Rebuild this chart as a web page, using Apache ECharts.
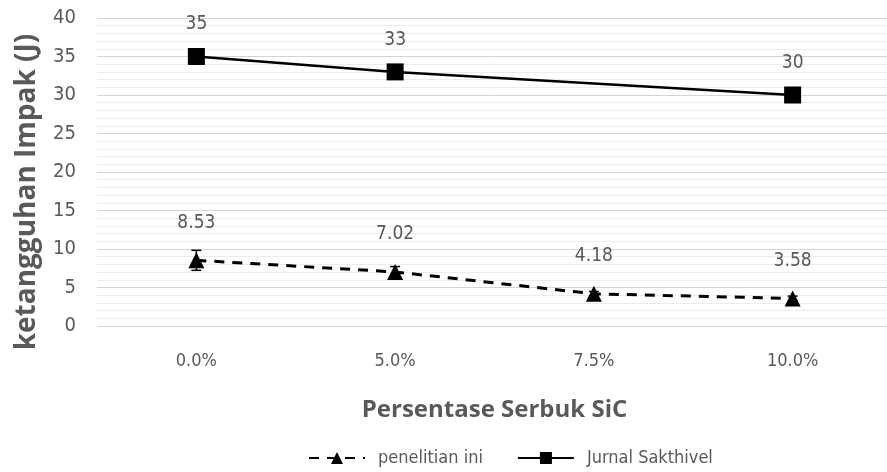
<!DOCTYPE html>
<html>
<head>
<meta charset="utf-8">
<style>
  html, body { margin: 0; padding: 0; background: #fff; }
  #chart { width: 887px; height: 472px; }
</style>
<script src="https://cdn.jsdelivr.net/npm/echarts@6/dist/echarts.min.js"></script>
</head>
<body>
<div id="chart"></div>
<script>
// Impact toughness versus SiC powder percentage
const categories = ['0.0%', '5.0%', '7.5%', '10.0%'];
const penelitianIni = [8.53, 7.02, 4.18, 3.58];
const penelitianErr = [1.3, 0.7, 0.3, 0.3];
const jurnalSakthivel = [35, 33, null, 30];
const yTicks = [0, 5, 10, 15, 20, 25, 30, 35, 40];

const FONT = "'DejaVu Sans Condensed', 'Liberation Sans Narrow', 'Open Sans', sans-serif";
const TITLE_FONT = "'Open Sans', sans-serif";
const GREY = '#595959';

const errorData = penelitianIni.map((v, i) => [i, v - penelitianErr[i], v + penelitianErr[i]]);

const chart = echarts.init(document.getElementById('chart'));
chart.setOption({
  animation: false,
  grid: { left: 97, top: 18, width: 795, bottom: 146, outerBoundsMode: 'none', containLabel: false },
  xAxis: {
    type: 'category',
    data: categories,
    boundaryGap: true,
    axisLine: { show: false },
    axisTick: { show: false },
    axisLabel: { color: GREY, fontFamily: FONT, fontSize: 18, margin: 26 },
    name: 'Persentase Serbuk SiC',
    nameLocation: 'middle',
    nameGap: 72,
    nameTextStyle: { color: GREY, fontFamily: TITLE_FONT, fontWeight: 'bold', fontSize: 24 }
  },
  yAxis: {
    type: 'value',
    min: yTicks[0],
    max: yTicks[yTicks.length - 1],
    interval: 5,
    axisLine: { show: false },
    axisTick: { show: false },
    axisLabel: { color: GREY, fontFamily: FONT, fontSize: 20, margin: 21 },
    splitLine: { lineStyle: { color: '#d4d4d4', width: 1 } },
    minorTick: { show: false, splitNumber: 5 },
    minorSplitLine: { show: true, lineStyle: { color: '#ececec', width: 1 } },
    name: 'ketangguhan Impak (J)',
    nameLocation: 'middle',
    nameGap: 56,
    nameTextStyle: {
      color: GREY, fontFamily: TITLE_FONT, fontWeight: 'bold', fontSize: 28,
      padding: [0, 40, 0, 0]
    }
  },
  legend: {
    bottom: 0,
    left: 303,
    itemWidth: 56,
    itemHeight: 15,
    itemGap: 34,
    textStyle: { color: GREY, fontFamily: FONT, fontSize: 18, padding: [0, 0, 0, 8] },
    data: ['penelitian ini', 'Jurnal Sakthivel']
  },
  series: [
    {
      name: 'penelitian ini',
      type: 'line',
      data: penelitianIni,
      symbol: 'triangle',
      symbolSize: 16,
      lineStyle: { color: '#000', width: 3, type: [10, 8] },
      itemStyle: { color: '#000' },
      label: {
        show: true, position: 'top', distance: 20,
        color: GREY, fontFamily: FONT, fontSize: 19,
        formatter: p => p.value.toFixed(2)
      },
      z: 3
    },
    {
      name: 'Jurnal Sakthivel',
      type: 'line',
      data: jurnalSakthivel,
      connectNulls: true,
      symbol: 'rect',
      symbolSize: 17,
      lineStyle: { color: '#000', width: 2.5 },
      itemStyle: { color: '#000' },
      label: {
        show: true, position: 'top', distance: 14,
        color: GREY, fontFamily: FONT, fontSize: 19
      },
      z: 3
    },
    {
      name: 'error',
      type: 'custom',
      data: errorData,
      encode: { x: 0, y: [1, 2] },
      z: 2,
      renderItem: function (params, api) {
        const x = api.value(0);
        const lo = api.coord([x, api.value(1)]);
        const hi = api.coord([x, api.value(2)]);
        const hw = 5;
        const style = { stroke: '#000', lineWidth: 1.5 };
        return {
          type: 'group',
          children: [
            { type: 'line', shape: { x1: lo[0], y1: lo[1], x2: hi[0], y2: hi[1] }, style },
            { type: 'line', shape: { x1: hi[0] - hw, y1: hi[1], x2: hi[0] + hw, y2: hi[1] }, style },
            { type: 'line', shape: { x1: lo[0] - hw, y1: lo[1], x2: lo[0] + hw, y2: lo[1] }, style }
          ]
        };
      }
    }
  ]
});
</script>
</body>
</html>
